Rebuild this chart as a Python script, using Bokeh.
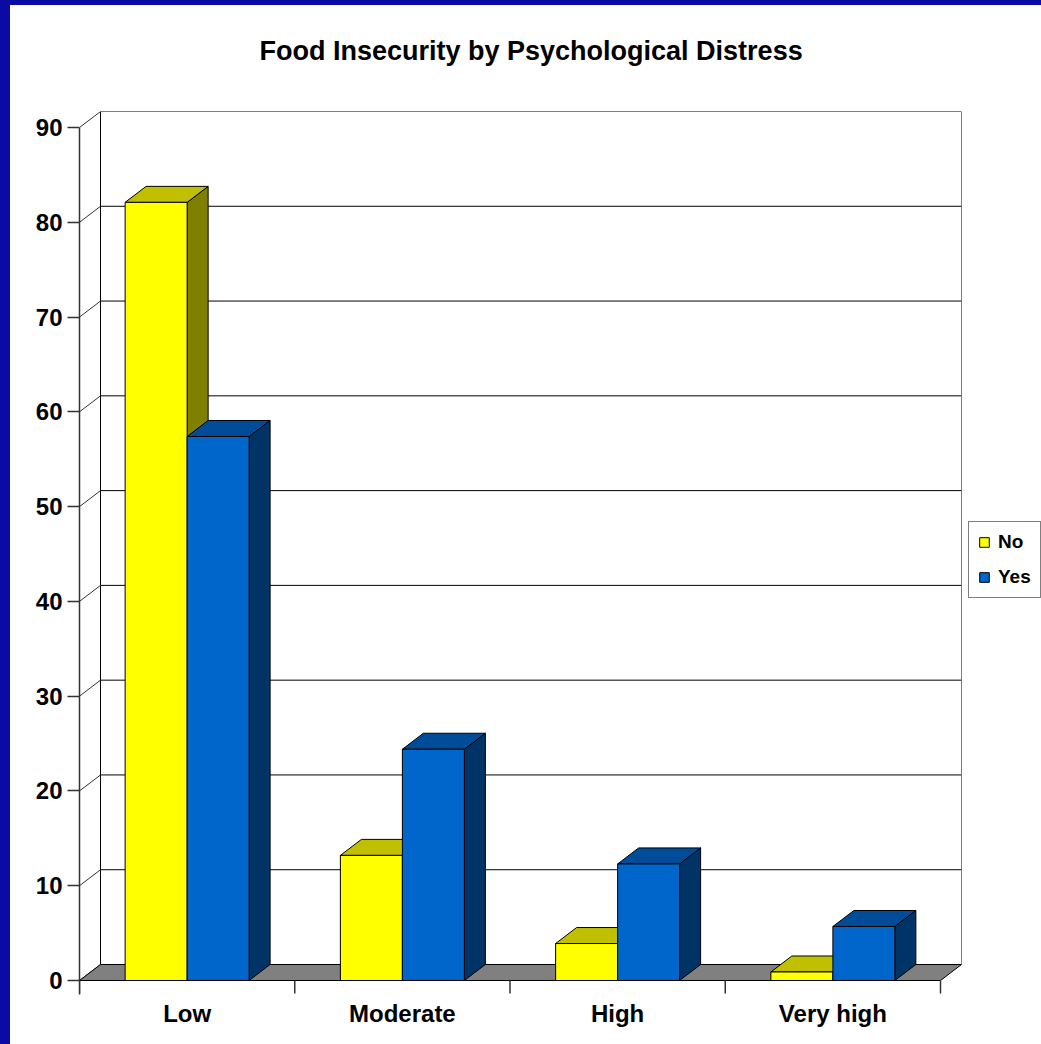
import numpy as np
from bokeh.plotting import figure
from bokeh.layouts import column, row
from bokeh.models import FixedTicker, Range1d, Legend, LegendItem, Spacer
from bokeh.embed import file_html
from bokeh.resources import INLINE

# ---------------- data ----------------
CATEGORIES = ["Low", "Moderate", "High", "Very high"]
SERIES = ["No", "Yes"]
NO_VALUES = [82.1, 13.2, 3.9, 0.9]
YES_VALUES = [57.4, 24.4, 12.3, 5.7]
Y_TICKS = [0, 10, 20, 30, 40, 50, 60, 70, 80, 90]
Y_MAX = 90
TITLE = "Food Insecurity by Psychological Distress"

# ---------------- style ----------------
FONT = "Liberation Sans"
FRAME_W = 882
FRAME_H = 883
DEPTH_X_PX = 21
DEPTH_Y_PX = 16
BELOW_PX = 14
TICK_PX = 13
BAR_W = 0.288
SLIDE_BLUE = "#0A0AA5"

COLORS = {
    "No": ("#FFFF00", "#C0C000", "#808000"),
    "Yes": ("#0066CC", "#004C99", "#003366"),
}

n = len(CATEGORIES)
ppu_x = (FRAME_W - DEPTH_X_PX) / n
ppu_y = (FRAME_H - DEPTH_Y_PX - BELOW_PX) / Y_MAX
DX = DEPTH_X_PX / ppu_x
DY = DEPTH_Y_PX / ppu_y
Y_LO = -BELOW_PX / ppu_y

p = figure(
    frame_width=FRAME_W, frame_height=FRAME_H,
    x_range=Range1d(0, n + DX), y_range=Range1d(Y_LO, Y_MAX + DY),
    output_backend="svg", toolbar_location=None,
    min_border_left=69, min_border_right=80, min_border_top=106, min_border_bottom=50,
    title=TITLE + "\n",
)
p.outline_line_color = None
p.xgrid.visible = False
p.ygrid.visible = False
p.background_fill_color = "white"
p.border_fill_color = "white"

p.title.text_font = FONT
p.title.text_font_size = "27px"
p.title.text_font_style = "bold"
p.title.text_color = "black"
p.title.align = "left"
p.title.offset = 180
p.title.standoff = 32

# back wall
p.quad(left=[DX], right=[n + DX], bottom=[DY], top=[Y_MAX + DY],
       fill_color="white", line_color="black", line_width=1)
# grid lines on back wall
grid_y = [t + DY for t in Y_TICKS[1:-1]]
p.segment(x0=[DX] * len(grid_y), y0=grid_y, x1=[n + DX] * len(grid_y), y1=grid_y,
          line_color="black", line_width=1)
# side wall diagonals
p.segment(x0=[0] * len(Y_TICKS), y0=Y_TICKS, x1=[DX] * len(Y_TICKS),
          y1=[t + DY for t in Y_TICKS], line_color="#333333", line_width=1)
# floor
p.patch([0, n, n + DX, DX], [0, 0, DY, DY], fill_color="#808080",
        line_color="black", line_width=1)
# category boundary ticks
bx = list(range(n + 1))
p.segment(x0=bx, y0=[0] * len(bx), x1=bx, y1=[-TICK_PX / ppu_y] * len(bx),
          line_color="#333333", line_width=1.5)

legend_items = []
for s_idx, (name, vals) in enumerate(zip(SERIES, [NO_VALUES, YES_VALUES])):
    front, top, side = COLORS[name]
    x0s, x1s = [], []
    for i, v in enumerate(vals):
        c = i + 0.5
        x0 = c - BAR_W if s_idx == 0 else c
        x0s.append(x0)
        x1s.append(x0 + BAR_W)
    # side faces
    p.patches(
        xs=[[x1, x1 + DX, x1 + DX, x1] for x1 in x1s],
        ys=[[0, DY, v + DY, v] for v in vals],
        fill_color=side, line_color="black", line_width=1,
    )
    # top faces
    p.patches(
        xs=[[x0, x1, x1 + DX, x0 + DX] for x0, x1 in zip(x0s, x1s)],
        ys=[[v, v, v + DY, v + DY] for v in vals],
        fill_color=top, line_color="black", line_width=1,
    )
    # front faces
    r = p.quad(left=x0s, right=x1s, bottom=[0] * n, top=vals,
               fill_color=front, line_color="black", line_width=1)
    legend_items.append(LegendItem(label=name, renderers=[r]))

# axes
ya = p.yaxis[0]
ya.ticker = FixedTicker(ticks=Y_TICKS)
ya.bounds = (Y_LO, Y_MAX)
ya.major_tick_out = 12
ya.major_tick_in = 0
ya.minor_tick_out = 0
ya.minor_tick_in = 0
ya.axis_line_color = "#333333"
ya.axis_line_width = 1.5
ya.major_tick_line_color = "#333333"
ya.major_tick_line_width = 1.5
ya.major_label_text_font = FONT
ya.major_label_text_font_size = "24px"
ya.major_label_text_font_style = "bold"
ya.major_label_text_color = "black"
ya.major_label_standoff = 5

xa = p.xaxis[0]
centers = [i + 0.5 for i in range(n)]
xa.ticker = FixedTicker(ticks=centers)
xa.major_label_overrides = {c: lab for c, lab in zip(centers, CATEGORIES)}
xa.axis_line_color = None
xa.major_tick_line_color = None
xa.major_tick_out = 0
xa.major_tick_in = 0
xa.minor_tick_out = 0
xa.minor_tick_in = 0
xa.major_label_text_font = FONT
xa.major_label_text_font_size = "24px"
xa.major_label_text_font_style = "bold"
xa.major_label_text_color = "black"
xa.major_label_standoff = 5

legend = Legend(
    items=legend_items, location=(7, 396),
    glyph_width=12, glyph_height=12, label_standoff=8,
    label_text_font=FONT, label_text_font_size="19px", label_text_font_style="bold",
    label_text_color="black",
    padding=9, spacing=13, margin=0, label_height=20,
    border_line_color="black", border_line_width=1, background_fill_color="white",
)
p.add_layout(legend, "right")

top_strip = Spacer(width=1041, height=5, styles={"background-color": SLIDE_BLUE})
left_strip = Spacer(width=10, height=1039, styles={"background-color": SLIDE_BLUE})
layout = column(top_strip, row(left_strip, p, spacing=0), spacing=0)

open("out.html", "w").write(file_html(layout, INLINE))
